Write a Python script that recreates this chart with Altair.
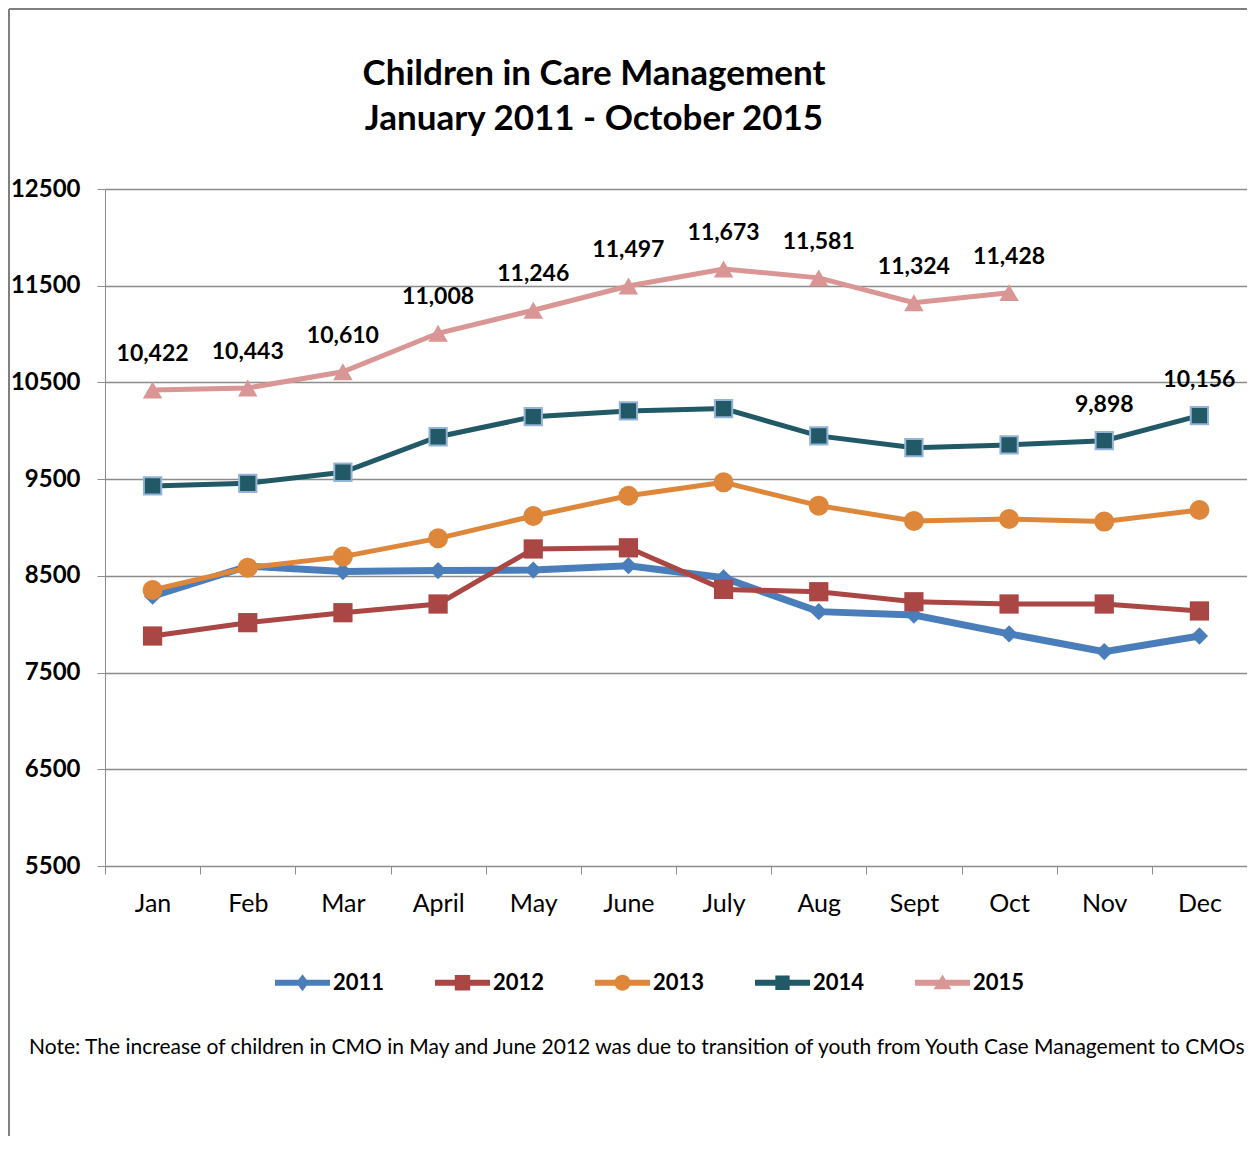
import altair as alt
import pandas as pd

months = ["Jan", "Feb", "Mar", "April", "May", "June", "July", "Aug", "Sept", "Oct", "Nov", "Dec"]
years = ["2011", "2012", "2013", "2014", "2015"]

v2011 = [8290, 8600, 8545, 8555, 8560, 8605, 8480, 8130, 8095, 7900, 7717, 7878]
v2012 = [7878, 8016, 8119, 8209, 8778, 8790, 8360, 8336, 8232, 8209, 8209, 8137]
v2013 = [8354, 8585, 8699, 8888, 9119, 9328, 9467, 9226, 9068, 9088, 9061, 9181]
v2014 = [9430, 9457, 9571, 9938, 10146, 10205, 10230, 9947, 9825, 9854, 9898, 10156]
v2015 = [10422, 10443, 10610, 11008, 11246, 11497, 11673, 11581, 11324, 11428]

series = {"2011": v2011, "2012": v2012, "2013": v2013, "2014": v2014, "2015": v2015}
labelled = {"2015": months[:10], "2014": ["Nov", "Dec"]}

colors = ["#4A7EBB", "#AA4643", "#DE873B", "#215967", "#D99694"]
shapes = {"2011": "diamond", "2012": "square", "2013": "circle", "2014": "square", "2015": "triangle-up"}
sizes = {"2011": 300, "2012": 370, "2013": 400, "2014": 300, "2015": 380}
widths = {"2011": 7, "2012": 5, "2013": 5, "2014": 5, "2015": 5}

title_lines = ["Children in Care Management", "January 2011 - October 2015"]
note = "Note: The increase of children in CMO in May and June 2012 was due to transition of  youth from Youth Case Management to CMOs"

rows = []
for y, vals in series.items():
    for m, v in zip(months, vals):
        rows.append({"year": y, "month": m, "value": v,
                     "label": f"{v:,}" if m in labelled.get(y, []) else ""})
df = pd.DataFrame(rows)

FONT = "Lato"
W, H = 1142, 677

xenc = alt.X("month:N", sort=months,
             scale=alt.Scale(type="band", paddingInner=0, paddingOuter=0),
             axis=alt.Axis(title=None, labelAngle=0, tickBand="extent", tickSize=8,
                           tickColor="#8c8c8c", domainColor="#8c8c8c", labelFont=FONT,
                           labelFontSize=25, labelColor="#000000", labelPadding=17,
                           grid=False))
yenc = alt.Y("value:Q", scale=alt.Scale(domain=[5500, 12500], nice=False, zero=False),
             axis=alt.Axis(title=None, values=list(range(5500, 12501, 1000)), tickSize=8,
                           tickColor="#8c8c8c", domainColor="#8c8c8c", gridColor="#8c8c8c",
                           gridWidth=1.5, labelFont=FONT, labelFontSize=24,
                           labelFontWeight="bold", labelColor="#000000", labelPadding=17,
                           format="d"))

# legend symbols: line + marker, coordinates in symbol units (1 unit = 27.5 px)
LINE = "M-1,-0.11 L1,-0.11 L1,0.11 L-1,0.11 Z "
leg_paths = [
    LINE + "M0,-0.31 L0.23,0 L0,0.31 L-0.23,0 Z",
    LINE + "M-0.28,-0.28 L0.28,-0.28 L0.28,0.28 L-0.28,0.28 Z",
    LINE + "M-0.29,0 A0.29,0.29 0 1,1 0.29,0 A0.29,0.29 0 1,1 -0.29,0 Z",
    LINE + "M-0.26,-0.26 L0.26,-0.26 L0.26,0.26 L-0.26,0.26 Z",
    LINE + "M0,-0.3 L0.32,0.24 L-0.32,0.24 Z",
]

legend = alt.Legend(title=None, orient="none", direction="horizontal", columns=5,
                    gridAlign="all", legendX=170, legendY=766, symbolSize=3025,
                    labelFont=FONT, labelFontSize=22, labelFontWeight="bold",
                    labelColor="#000000", labelOffset=3, columnPadding=50, padding=0,
                    symbolOpacity=1, symbolStrokeWidth=0)

cscale = alt.Scale(domain=years, range=colors)

layers = []
for i, y in enumerate(years):
    base = alt.Chart(df).transform_filter(alt.datum.year == y)
    line = base.mark_line(strokeWidth=widths[y], color=colors[i]).encode(x=xenc, y=yenc)
    pt_kwargs = dict(shape=shapes[y], filled=True, size=sizes[y], opacity=1, color=colors[i])
    if y == "2014":
        pt_kwargs.update(stroke="#95B3D7", strokeWidth=2)
    pts = base.mark_point(**pt_kwargs).encode(x=xenc, y=yenc)
    layers += [line, pts]

# legend carrier: one mark per year, drawn below the visible page
leg_layer = alt.Chart(df).transform_filter(alt.datum.month == "Jan").mark_point(
    filled=True, opacity=1, size=3025).encode(
    x=xenc, y=alt.value(3000),
    color=alt.Color("year:N", scale=cscale, legend=legend),
    shape=alt.Shape("year:N", scale=alt.Scale(domain=years, range=leg_paths), legend=legend))

labels = alt.Chart(df).transform_filter(alt.datum.label != "").mark_text(
    font=FONT, fontSize=23, fontWeight="bold", color="#000000", dy=-36).encode(
    x=xenc, y=yenc, text="label:N")

one = pd.DataFrame({"t": [note]})
note_mark = alt.Chart(one).mark_text(font=FONT, fontSize=21, color="#000000",
                                     align="left", baseline="middle").encode(
    x=alt.value(-76), y=alt.value(859), text="t:N")
frame_left = alt.Chart(one).mark_rule(color="#7f7f7f", strokeWidth=2).encode(
    x=alt.value(-96), y=alt.value(-180), y2=alt.value(970))
frame_top = alt.Chart(one).mark_rule(color="#7f7f7f", strokeWidth=2).encode(
    x=alt.value(-96), x2=alt.value(1150), y=alt.value(-180))

chart = alt.layer(*layers, leg_layer, labels, note_mark, frame_left, frame_top).properties(
    width=W, height=H,
    title=alt.Title(title_lines, font=FONT, fontSize=35, fontWeight="bold",
                    color="#000000", anchor="middle", dx=-82, offset=0, dy=164,
                    lineHeight=45, baseline="bottom"),
    autosize=alt.AutoSizeParams(type="none"),
    padding={"left": 97, "top": 181, "right": 0, "bottom": 270},
).configure_view(stroke=None).configure(background="white")

chart.save("out.html", embed_options={"renderer": "svg", "actions": False})
